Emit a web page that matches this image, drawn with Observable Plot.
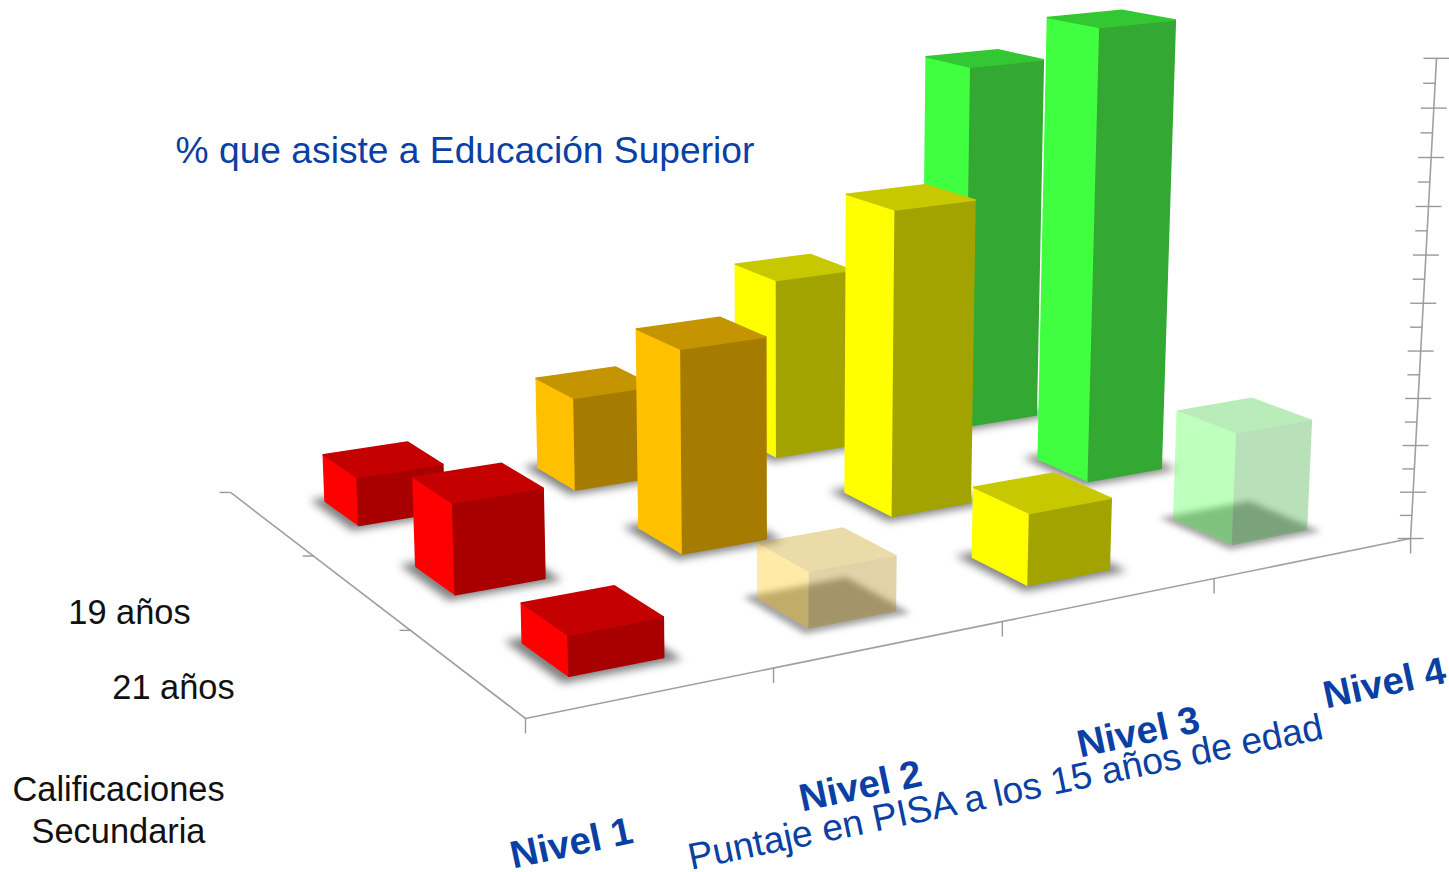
<!DOCTYPE html>
<html><head><meta charset="utf-8">
<script src="https://cdn.jsdelivr.net/npm/d3@7"></script>
<script src="https://cdn.jsdelivr.net/npm/@observablehq/plot@0.6"></script>
<style>html,body{margin:0;padding:0;background:#fff;overflow:hidden}</style>
</head><body><div id="chart"></div>
<script>
const levels = ["Nivel 1", "Nivel 2", "Nivel 3", "Nivel 4"];
const rowNames = ["19 años", "21 años", "Calificaciones Secundaria"];
const pct19 = [10.8, 21.3, 42, 86.6];
const pct21 = [19.2, 43.9, 67.3, 101.6];
const pctSec = [8, 11.5, 15, 24];
const ghostLevelsInSec = ["Nivel 2", "Nivel 4"];
const sideColors = ["#ff0000", "#ffc000", "#ffff00", "#40ff40"];
const frontColors = ["#a80000", "#a67c00", "#a3a300", "#33a833"];
const topColors = ["#c40000", "#c49500", "#c8c800", "#33c833"];
const axisTicks = d3.range(0, 101, 5);

// Perspective camera fitted to the scene: u = level, v = row depth, h = percent
function proj(u, v, h) {
  const t = h / 10;
  const w = 1 + 0.042 * u + 0.0926 * v - 0.0046 * t;
  return {
    x: (525 + 280.5 * u - 77 * v - 3.58 * t) / w + 2.5 * u * Math.max(0, v - 0.25),
    y: (718 - 22.4 * u - 29.8 * v - 56.35 * t) / w
  };
}
const U0 = 0.313, U1 = 0.703, V0 = 0.285, V1 = 0.675;
const levelGap = 0.01; // the first level sits slightly closer to the wall

const rows = [
  {name: rowNames[0], v: 2, vals: pct19},
  {name: rowNames[1], v: 1, vals: pct21},
  {name: rowNames[2], v: 0, vals: pctSec}
];
const bars = rows.flatMap(r => r.vals.map((val, i) => ({
  level: levels[i], i, v: r.v, val, base: i + (i > 0 ? levelGap : 0),
  ghost: r.name === rowNames[2] && ghostLevelsInSec.includes(levels[i])
})));

function poly(id, color, corners) {
  return corners.concat([corners[0]]).map(([u, v, h]) => ({id, color, ...proj(u, v, h)}));
}
function facesOf(b, k) {
  const u0 = b.base + U0, u1 = b.base + U1, v0 = b.v + V0, v1 = b.v + V1, h = b.val;
  return [
    ...poly(k + "L", sideColors[b.i], [[u0, v0, 0], [u0, v1, 0], [u0, v1, h], [u0, v0, h]]),
    ...poly(k + "F", frontColors[b.i], [[u0, v0, 0], [u1, v0, 0], [u1, v0, h], [u0, v0, h]]),
    ...poly(k + "T", topColors[b.i], [[u0, v0, h], [u1, v0, h], [u1, v1, h], [u0, v1, h]])
  ];
}
function footprint(b, k, pad) {
  const u0 = b.base + U0 - pad, u1 = b.base + U1 + pad, v0 = b.v + V0 - pad, v1 = b.v + V1 + pad;
  return poly(k + "S", "#777", [[u0, v0, 0], [u1, v0, 0], [u1, v1, 0], [u0, v1, 0]]);
}
const solid = bars.filter(b => !b.ghost);
const ghost = bars.filter(b => b.ghost);
const solidFaces = solid.flatMap((b, k) => facesOf(b, "s" + k));
const ghostFaces = ghost.flatMap((b, k) => facesOf(b, "g" + k));
const solidShadows = solid.flatMap((b, k) => footprint(b, "a" + k, 0.05));
const ghostShadows = ghost.flatMap((b, k) => footprint(b, "b" + k, 0.04));

const seg = (a, b) => ({x1: a.x, y1: a.y, x2: b.x, y2: b.y});
const floorEdges = [seg(proj(0, 0, 0), proj(4, 0, 0)), seg(proj(0, 0, 0), proj(0, 3, 0)), seg(proj(4, 0, 0), proj(4, 0, 100))];
const frontTicks = d3.range(0, 5).map(i => { const p = proj(i, 0, 0); return {x1: p.x, y1: p.y, x2: p.x, y2: p.y + 15}; });
const leftTicks = d3.range(1, 4).map(j => { const p = proj(0, j, 0); return {x1: p.x, y1: p.y, x2: p.x - 11, y2: p.y}; });
const vertTicks = axisTicks.map(t => {
  const p = proj(4, 0, t);
  return t % 10 === 0 ? {x1: p.x - 13, y1: p.y, x2: p.x + 13, y2: p.y} : {x1: p.x - 12, y1: p.y, x2: p.x, y2: p.y};
});

const BLUE = "#0a3fa3";
const levelLabels = levels.map((t, i) => ({t, x: [571, 860, 1138, 1384][i], y: [843, 786, 732, 683][i]}));
const blackLabels = [
  {t: rowNames[0], x: 129, y: 612},
  {t: rowNames[1], x: 173, y: 687},
  {t: "Calificaciones", x: 118, y: 789},
  {t: "Secundaria", x: 118, y: 831}
];

const faceOpts = {x: "x", y: "y", z: "id", fill: "color", stroke: "color", strokeWidth: 1.5, strokeLinejoin: "round"};
const chart = Plot.plot({
  width: 1449, height: 872, margin: 0,
  x: {domain: [0, 1449], range: [0, 1449], axis: null},
  y: {domain: [0, 872], range: [0, 872], axis: null},
  color: {type: "identity"},
  style: {background: "#fff", display: "block"},
  marks: [
    Plot.link(floorEdges, {x1: "x1", y1: "y1", x2: "x2", y2: "y2", stroke: "#a0a0a0", strokeWidth: 1.6}),
    Plot.link(frontTicks.concat(leftTicks, vertTicks), {x1: "x1", y1: "y1", x2: "x2", y2: "y2", stroke: "#999", strokeWidth: 1.4}),
    Plot.line(solidShadows, {x: "x", y: "y", z: "id", fill: "#808080", stroke: "none", imageFilter: "blur(4px)"}),
    Plot.line(ghostShadows, {x: "x", y: "y", z: "id", fill: "#a2a2a2", stroke: "none", imageFilter: "blur(3px)"}),
    Plot.line(solidFaces, faceOpts),
    Plot.line(ghostFaces, {...faceOpts, stroke: "none", fillOpacity: 0.34}),
    Plot.text(["% que asiste a Educación Superior"], {x: () => 464.5, y: () => 151, text: d => d, fontFamily: "Liberation Sans", fontSize: 37.2, fill: BLUE}),
    Plot.text(["Puntaje en PISA a los 15 años de edad"], {x: () => 1005, y: () => 792, text: d => d, rotate: -11.7, fontFamily: "Liberation Sans", fontSize: 37.2, fill: BLUE}),
    Plot.text(levelLabels, {x: "x", y: "y", text: "t", rotate: -12, fontFamily: "Liberation Sans", fontWeight: "bold", fontSize: 38.5, fill: BLUE}),
    Plot.text(blackLabels, {x: "x", y: "y", text: "t", fontFamily: "Liberation Sans", fontSize: 34.4, fill: "#111"})
  ]
});
document.getElementById("chart").append(chart);
</script></body></html>
